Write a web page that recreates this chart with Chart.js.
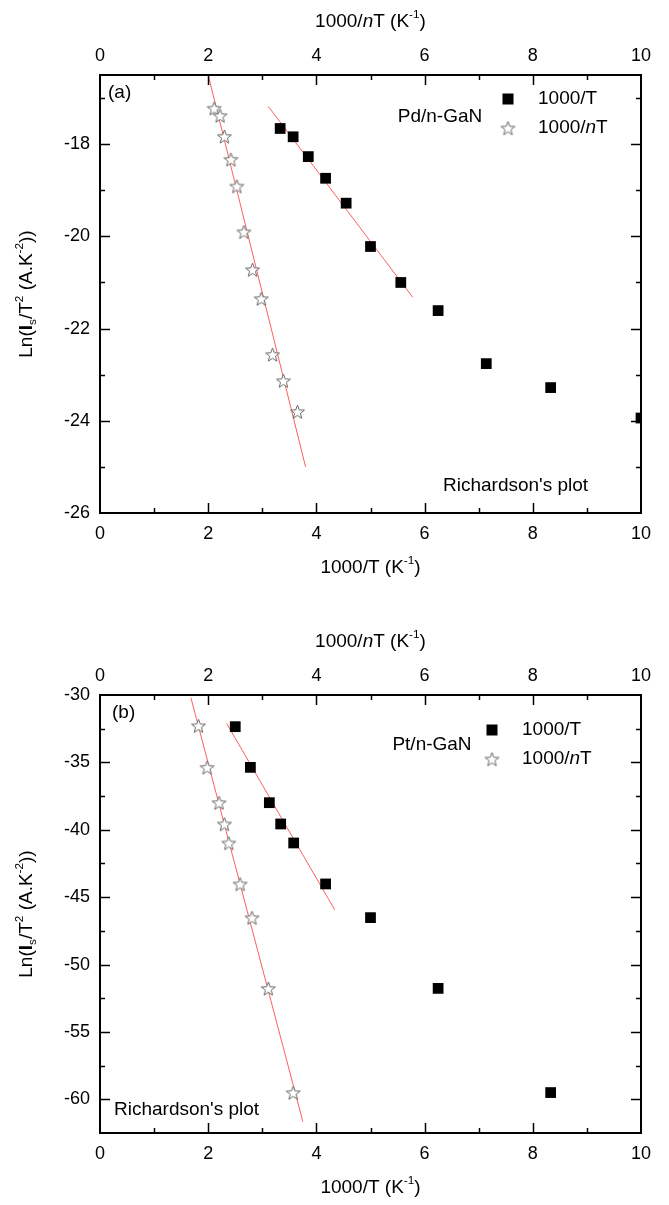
<!DOCTYPE html>
<html>
<head>
<meta charset="utf-8">
<script src="https://cdn.jsdelivr.net/npm/chart.js@4.4.1/dist/chart.umd.min.js"></script>
<style>
  html, body { margin: 0; padding: 0; background: #fff; }
  canvas { display: block; }
</style>
</head>
<body>
<canvas id="ca" width="669" height="620"></canvas>
<canvas id="cb" width="669" height="585"></canvas>
<script>
// ---- panel (a) Pd/n-GaN ----
const pdInvT  = [3.33, 3.57, 3.85, 4.17, 4.55, 5.00, 5.56, 6.25, 7.14, 8.33, 10.0];
const pdLnT   = [-17.66, -17.84, -18.27, -18.74, -19.28, -20.22, -21.00, -21.61, -22.76, -23.28, -23.94];
const pdInvNT = [2.11, 2.22, 2.30, 2.42, 2.53, 2.66, 2.82, 2.98, 3.19, 3.39, 3.65];
const pdLnNT  = [-17.22, -17.38, -17.83, -18.33, -18.91, -19.90, -20.72, -21.35, -22.56, -23.13, -23.80];
const pdFitTX  = [3.11, 5.78],  pdFitTY  = [-17.18, -21.32];
const pdFitNTX = [2.00, 3.80],  pdFitNTY = [-16.50, -25.00];

// ---- panel (b) Pt/n-GaN ----
const ptInvT  = [2.50, 2.78, 3.13, 3.34, 3.58, 4.17, 5.00, 6.25, 8.33];
const ptLnT   = [-32.35, -35.37, -37.99, -39.57, -40.98, -44.02, -46.52, -51.77, -59.50];
const ptInvNT = [1.82, 1.98, 2.20, 2.30, 2.38, 2.59, 2.81, 3.11, 3.57];
const ptLnNT  = [-32.28, -35.37, -37.99, -39.57, -40.98, -44.02, -46.52, -51.77, -59.50];
const ptFitTX  = [2.34, 4.34],  ptFitTY  = [-32.10, -45.95];
const ptFitNTX = [1.68, 3.75],  ptFitNTY = [-30.20, -61.66];

const FONT = '"Liberation Sans", Arial, sans-serif';
const RED = 'rgba(255,40,40,0.75)';

function pts(xs, ys) { return xs.map((x, i) => ({ x: x, y: ys[i] })); }

// open star marker
function makeStar(r) {
  const c = document.createElement('canvas');
  const s = Math.ceil(r * 2 + 4);
  c.width = s; c.height = s;
  const g = c.getContext('2d');
  g.translate(s / 2, s / 2 + 0.8);
  g.beginPath();
  for (let i = 0; i < 10; i++) {
    const rad = i % 2 === 0 ? r : r * 0.42;
    const a = -Math.PI / 2 + i * Math.PI / 5;
    if (i === 0) g.moveTo(rad * Math.cos(a), rad * Math.sin(a));
    else g.lineTo(rad * Math.cos(a), rad * Math.sin(a));
  }
  g.closePath();
  g.fillStyle = '#fff';
  g.fill();
  g.strokeStyle = '#666';
  g.lineWidth = 1;
  g.stroke();
  return c;
}
const starImg = makeStar(7.3);

function runsWidth(ctx, runs, size) {
  let w = 0;
  runs.forEach(r => {
    const fs = (r.sup || r.sub) ? size * 0.62 : size;
    ctx.font = (r.i ? 'italic ' : '') + (r.b ? 'bold ' : '') + fs + 'px ' + FONT;
    w += ctx.measureText(r.t).width;
  });
  return w;
}
function drawRuns(ctx, runs, x, y, size, align) {
  let cx = align === 'center' ? x - runsWidth(ctx, runs, size) / 2 : x;
  ctx.textBaseline = 'middle';
  ctx.textAlign = 'left';
  ctx.fillStyle = '#000';
  runs.forEach(r => {
    const fs = (r.sup || r.sub) ? size * 0.62 : size;
    ctx.font = (r.i ? 'italic ' : '') + (r.b ? 'bold ' : '') + fs + 'px ' + FONT;
    const dy = r.sup ? -size * 0.38 : (r.sub ? size * 0.3 : 0);
    ctx.fillText(r.t, cx, y + dy);
    cx += ctx.measureText(r.t).width;
  });
}

const topTitle = [{ t: '1000/' }, { t: 'n', i: 1 }, { t: 'T (K' }, { t: '-1', sup: 1 }, { t: ')' }];
const botTitle = [{ t: '1000/T (K' }, { t: '-1', sup: 1 }, { t: ')' }];
const yTitle = [{ t: 'Ln(' }, { t: 'I', b: 1 }, { t: 's', sub: 1 }, { t: '/T' }, { t: '2', sup: 1 },
  { t: ' (A.K' }, { t: '-2', sup: 1 }, { t: '))' }];

const deco = {
  id: 'deco',
  afterDraw(chart, args, o) {
    const ctx = chart.ctx;
    const a = chart.chartArea;
    const s = chart.scales;
    ctx.save();
    // inward ticks
    ctx.strokeStyle = '#000';
    ctx.lineWidth = 1.5;
    const tick = (scale, side, majorFn) => {
      scale.ticks.forEach(t => {
        const v = t.value;
        if (v <= scale.min + 1e-9 || v >= scale.max - 1e-9) return;
        const len = majorFn(v) ? 10 : 5;
        const p = Math.round(scale.getPixelForValue(v)) + 0.5;
        ctx.beginPath();
        if (side === 'bottom') { ctx.moveTo(p, a.bottom); ctx.lineTo(p, a.bottom - len); }
        if (side === 'top') { ctx.moveTo(p, a.top); ctx.lineTo(p, a.top + len); }
        if (side === 'left') { ctx.moveTo(a.left, p); ctx.lineTo(a.left + len, p); }
        if (side === 'right') { ctx.moveTo(a.right, p); ctx.lineTo(a.right - len, p); }
        ctx.stroke();
      });
    };
    const mx = v => Math.abs(v % 2) < 1e-6;
    tick(s.x, 'bottom', mx);
    tick(s.x2, 'top', mx);
    tick(s.y, 'left', o.majorY);
    tick(s.y2, 'right', o.majorY);
    // frame
    ctx.lineWidth = 2;
    ctx.strokeRect(a.left, a.top, a.right - a.left, a.bottom - a.top);

    // titles
    drawRuns(ctx, topTitle, (a.left + a.right) / 2, 22, 19, 'center');
    drawRuns(ctx, botTitle, (a.left + a.right) / 2, a.bottom + 55, 19, 'center');
    ctx.save();
    ctx.translate(27, (a.top + a.bottom) / 2);
    ctx.rotate(-Math.PI / 2);
    drawRuns(ctx, yTitle, 0, 0, 19, 'center');
    ctx.restore();

    // labels
    drawRuns(ctx, [{ t: o.tag }], o.tagX, o.tagY, 19, 'left');
    drawRuns(ctx, [{ t: o.name }], o.nameX, o.nameY, 19, 'center');
    drawRuns(ctx, [{ t: "Richardson's plot" }], o.richX, o.richY, 19, 'left');

    // legend
    ctx.fillStyle = '#000';
    ctx.fillRect(o.legX - 5.5, o.legY - 5.5, 11, 11);
    ctx.drawImage(starImg, o.legX - starImg.width / 2, o.legY + 29 - starImg.height / 2);
    drawRuns(ctx, [{ t: '1000/T' }], o.legX + 30, o.legY, 19, 'left');
    drawRuns(ctx, [{ t: '1000/' }, { t: 'n', i: 1 }, { t: 'T' }], o.legX + 30, o.legY + 29, 19, 'left');
    ctx.restore();
  }
};

function makeChart(id, H, d) {
  const lbl = d.majorY;
  return new Chart(document.getElementById(id), {
    type: 'scatter',
    data: {
      datasets: [
        { data: pts(d.tx, d.ty), xAxisID: 'x', yAxisID: 'y', pointStyle: 'rect', pointRadius: 7.6,
          backgroundColor: '#000', borderColor: '#000', borderWidth: 0, clip: 0 },
        { data: pts(d.nx, d.ny), xAxisID: 'x2', yAxisID: 'y', pointStyle: starImg, pointRadius: 7 },
        { type: 'line', data: pts(d.ftx, d.fty), xAxisID: 'x', yAxisID: 'y', borderColor: RED,
          borderWidth: 1, pointRadius: 0, fill: false },
        { type: 'line', data: pts(d.fnx, d.fny), xAxisID: 'x2', yAxisID: 'y', borderColor: RED,
          borderWidth: 1, pointRadius: 0, fill: false }
      ]
    },
    options: {
      responsive: false,
      animation: false,
      layout: { padding: 0 },
      plugins: { legend: { display: false }, tooltip: { enabled: false }, deco: d },
      scales: {
        x: {
          type: 'linear', position: 'bottom', min: 0, max: 10,
          grid: { display: false, drawTicks: false }, border: { display: false },
          ticks: { stepSize: 1, padding: 10, color: '#000', font: { family: FONT, size: 18 },
            maxRotation: 0, autoSkip: false,
            callback: v => (Math.abs(v % 2) < 1e-6 ? String(v) : '') },
          afterFit: sc => { sc.height = H - 513; }
        },
        x2: {
          type: 'linear', position: 'top', min: 0, max: 10,
          grid: { display: false, drawTicks: false }, border: { display: false },
          ticks: { stepSize: 1, padding: 8, color: '#000', font: { family: FONT, size: 18 },
            maxRotation: 0, autoSkip: false,
            callback: v => (Math.abs(v % 2) < 1e-6 ? String(v) : '') },
          afterFit: sc => { sc.height = 75; }
        },
        y: {
          type: 'linear', position: 'left', min: d.ymin, max: d.ymax,
          grid: { display: false, drawTicks: false }, border: { display: false },
          ticks: { stepSize: d.ystep, padding: 10, color: '#000', font: { family: FONT, size: 18 },
            autoSkip: false,
            callback: v => (lbl(v) && v > d.ymin - 1e-9 ? String(v) : '') },
          afterFit: sc => { sc.width = 100; }
        },
        y2: {
          type: 'linear', position: 'right', min: d.ymin, max: d.ymax,
          grid: { display: false, drawTicks: false }, border: { display: false },
          ticks: { stepSize: d.ystep, display: false },
          afterFit: sc => { sc.width = 28; }
        }
      }
    },
    plugins: [deco]
  });
}

makeChart('ca', 620, {
  tx: pdInvT, ty: pdLnT, nx: pdInvNT, ny: pdLnNT,
  ftx: pdFitTX, fty: pdFitTY, fnx: pdFitNTX, fny: pdFitNTY,
  ymin: -26, ymax: -16.5, ystep: 1,
  majorY: v => Math.abs(v % 2) < 1e-6,
  tag: '(a)', tagX: 108, tagY: 93,
  name: 'Pd/n-GaN', nameX: 440, nameY: 117,
  richX: 443, richY: 486,
  legX: 508, legY: 99
});

makeChart('cb', 585, {
  tx: ptInvT, ty: ptLnT, nx: ptInvNT, ny: ptLnNT,
  ftx: ptFitTX, fty: ptFitTY, fnx: ptFitNTX, fny: ptFitNTY,
  ymin: -62.5, ymax: -30, ystep: 2.5,
  majorY: v => Math.abs(v % 5) < 1e-6,
  tag: '(b)', tagX: 112, tagY: 93,
  name: 'Pt/n-GaN', nameX: 432, nameY: 125,
  richX: 114, richY: 490,
  legX: 492, legY: 110
});
</script>
</body>
</html>
